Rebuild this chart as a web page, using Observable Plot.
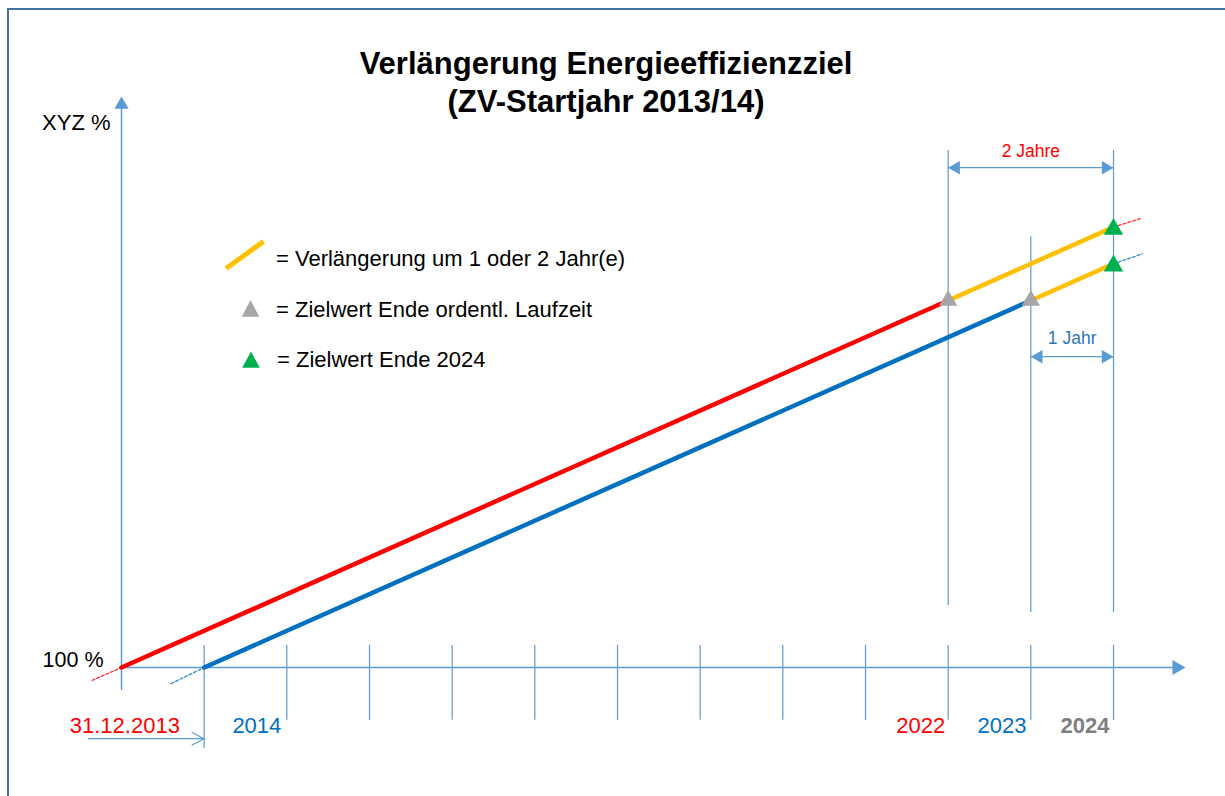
<!DOCTYPE html>
<html>
<head>
<meta charset="utf-8">
<script src="https://cdn.jsdelivr.net/npm/d3@7"></script>
<script src="https://cdn.jsdelivr.net/npm/@observablehq/plot@0.6"></script>
<style>
  html, body { margin: 0; padding: 0; background: #fff; overflow: hidden; }
  body { font-family: "Liberation Sans", Arial, sans-serif; }
  #wrap { position: relative; width: 1225px; height: 796px; overflow: hidden; }
  #frame { position: absolute; left: 7px; top: 8px; width: 1400px; height: 1000px;
           border-left: 2px solid #41719C; border-top: 2px solid #41719C; pointer-events: none; }
  #chart { position: absolute; left: 0; top: 0; }
  #title { position: absolute; left: 0; top: 45.4px; width: 1212px; text-align: center;
           font-weight: bold; font-size: 31px; line-height: 38px; color: #000; margin: 0; }
  .lg { position: absolute; font-size: 22px; line-height: 26px; color: #000; white-space: nowrap; }
  .sw { position: absolute; overflow: visible; }
</style>
</head>
<body>
<div id="wrap">
  <div id="chart"></div>
  <div id="frame"></div>
  <h1 id="title">Verlängerung Energieeffizienzziel<br>(ZV-Startjahr 2013/14)</h1>
  <svg class="sw" style="left:0;top:0" width="1225" height="796">
    <line x1="226" y1="268.5" x2="263.5" y2="241.5" stroke="#FFC000" stroke-width="5"/>
    <polygon points="250.5,300 241.8,316.7 259.2,316.7" fill="#A6A6A6"/>
    <polygon points="251,351.5 242.2,367.7 259.8,367.7" fill="#00B050"/>
  </svg>
  <div class="lg" style="left:276px;top:246px">= Verlängerung um 1 oder 2 Jahr(e)</div>
  <div class="lg" style="left:276px;top:296.5px">= Zielwert Ende ordentl. Laufzeit</div>
  <div class="lg" style="left:277px;top:347px">= Zielwert Ende 2024</div>
</div>
<script>
// ---- data (years = year boundaries; value = target in % of start, arbitrary scale 100 → 110 over 10 years)
const yearBoundaries = [2014, 2015, 2016, 2017, 2018, 2019, 2020, 2021, 2022, 2023, 2024, 2025];
const redRegular   = [{year: 2013, value: 100}, {year: 2023, value: 110}];   // ZV start 31.12.2013 → end 2022
const blueRegular  = [{year: 2014, value: 100}, {year: 2024, value: 110}];   // ZV start 2014 → end 2023
const redExtension = [{year: 2023, value: 110}, {year: 2025, value: 112}];   // +2 Jahre
const blueExtension= [{year: 2024, value: 110}, {year: 2025, value: 111}];   // +1 Jahr
const redDashStart  = [{year: 2012.645, value: 99.65}, {year: 2013, value: 100}];
const blueDashStart = [{year: 2013.6, value: 99.56}, {year: 2014, value: 100}];
const redDashEnd    = [{year: 2025, value: 112}, {year: 2025.34, value: 112.24}];
const blueDashEnd   = [{year: 2025, value: 111}, {year: 2025.35, value: 111.27}];
const grayTargets  = [{year: 2023, value: 110}, {year: 2024, value: 110}];   // Zielwert Ende ordentl. Laufzeit
const greenTargets = [{year: 2025, value: 112}, {year: 2025, value: 111}];   // Zielwert Ende 2024
const yearLabels = [
  {year: 2015, text: "2014", color: "#0070C0", weight: "normal", dx: -5.5},
  {year: 2023, text: "2022", color: "#FF0000", weight: "normal", dx: -3},
  {year: 2024, text: "2023", color: "#0070C0", weight: "normal", dx: -4.3},
  {year: 2025, text: "2024", color: "#7F7F7F", weight: "bold",   dx: -4}
];
const guides = [
  {year: 2023, from: 101.69, to: 114.09},
  {year: 2024, from: 101.5,  to: 111.74},
  {year: 2025, from: 101.5,  to: 114.09}
];
const spans = [
  {from: 2023, to: 2025, value: 113.62, label: "2 Jahre", labelValue: 114.06, color: "#FF0000"},
  {from: 2024, to: 2025, value: 108.47, label: "1 Jahr",  labelValue: 108.96, color: "#2E75B6"}
];

const AX = "#5B9BD5";
const FONT = "Liberation Sans, Arial, sans-serif";
const xy = {x: "year", y: "value"};

const chart = Plot.plot({
  width: 1225,
  height: 796,
  margin: 0,
  style: {background: "transparent", fontFamily: FONT, overflow: "visible"},
  x: {type: "linear", domain: [2013, 2025], range: [121, 1113], axis: null},
  y: {type: "linear", domain: [100, 110], range: [667, 300], axis: null},
  marks: [
    // x-axis year ticks
    Plot.ruleX(yearBoundaries, {x: d => d, y1: d => d === 2014 ? 97.79 : 98.56, y2: 100.6, stroke: AX, strokeWidth: 1.2}),
    // vertical guides above the axis
    Plot.ruleX(guides, {x: "year", y1: "from", y2: "to", stroke: AX, strokeWidth: 1.2}),
    // axes
    Plot.ruleY([100], {x1: 2012.98, x2: 2025.8, stroke: AX, strokeWidth: 1.5}),
    Plot.ruleX([2013], {y1: 99.37, y2: 115.4, stroke: AX, strokeWidth: 1.5}),
    Plot.dot([{year: 2025.87, value: 100}], {...xy, symbol: "triangle", r: 5.6, rotate: 90, dx: -8.6, fill: AX, stroke: null}),
    Plot.dot([{year: 2013, value: 115.56}], {...xy, symbol: "triangle", r: 5.3, dy: 8.2, fill: AX, stroke: null}),
    // span arrows (2 Jahre / 1 Jahr)
    Plot.ruleY(spans, {y: "value", x1: "from", x2: "to", stroke: AX, strokeWidth: 1.3}),
    Plot.dot(spans, {x: "from", y: "value", symbol: "triangle", r: 5, rotate: -90, dx: 7.8, fill: AX, stroke: null}),
    Plot.dot(spans, {x: "to", y: "value", symbol: "triangle", r: 5, rotate: 90, dx: -7.8, fill: AX, stroke: null}),
    Plot.text(spans, {x: d => (d.from + d.to) / 2, y: "labelValue", text: "label", fill: "color", fontSize: 17.5, fontFamily: FONT}),
    // 31.12.2013 arrow
    Plot.arrow([{x1: 2012.6, x2: 2014, v: 98.06}], {x1: "x1", x2: "x2", y1: "v", y2: "v", stroke: AX, strokeWidth: 1.2, headLength: 17, headAngle: 55}),
    // dashed continuations
    Plot.line(redDashStart, {...xy, stroke: "#FF0000", strokeWidth: 1.3, strokeDasharray: "3,2", strokeOpacity: 0.8}),
    Plot.line(blueDashStart, {...xy, stroke: "#0070C0", strokeWidth: 1.3, strokeDasharray: "3,2", strokeOpacity: 0.8}),
    Plot.line(redDashEnd, {...xy, stroke: "#FF0000", strokeWidth: 1.3, strokeDasharray: "3,2", strokeOpacity: 0.8}),
    Plot.line(blueDashEnd, {...xy, stroke: "#0070C0", strokeWidth: 1.3, strokeDasharray: "3,2", strokeOpacity: 0.8}),
    // main lines
    Plot.line(redRegular, {...xy, stroke: "#FF0000", strokeWidth: 4.5}),
    Plot.line(blueRegular, {...xy, stroke: "#0070C0", strokeWidth: 4.5}),
    Plot.line(redExtension, {...xy, stroke: "#FFC000", strokeWidth: 4.5}),
    Plot.line(blueExtension, {...xy, stroke: "#FFC000", strokeWidth: 4.5}),
    // target markers
    Plot.dot(grayTargets, {...xy, symbol: "triangle", r: 6.8, fill: "#A6A6A6", stroke: null}),
    Plot.dot(greenTargets, {...xy, symbol: "triangle", r: 7.2, dy: 2, fill: "#00B050", stroke: null}),
    // axis labels
    Plot.text(["XYZ %"], {x: 2013, y: 114.85, dx: -11, text: d => d, textAnchor: "end", fontSize: 22, fill: "#000", fontFamily: FONT}),
    Plot.text(["100 %"], {x: 2013, y: 100, dx: -18, dy: -7, text: d => d, textAnchor: "end", fontSize: 21.5, fill: "#000", fontFamily: FONT}),
    Plot.text(["31.12.2013"], {x: 2014, y: 98.42, dx: -24.3, text: d => d, textAnchor: "end", fontSize: 22, fill: "#FF0000", fontFamily: FONT}),
    ...yearLabels.map(l => Plot.text([l], {x: "year", y: 98.42, dx: l.dx, text: "text", textAnchor: "end",
                                          fontSize: 22, fill: l.color, fontWeight: l.weight, fontFamily: FONT}))
  ]
});
document.getElementById("chart").appendChild(chart);
</script>
</body>
</html>
